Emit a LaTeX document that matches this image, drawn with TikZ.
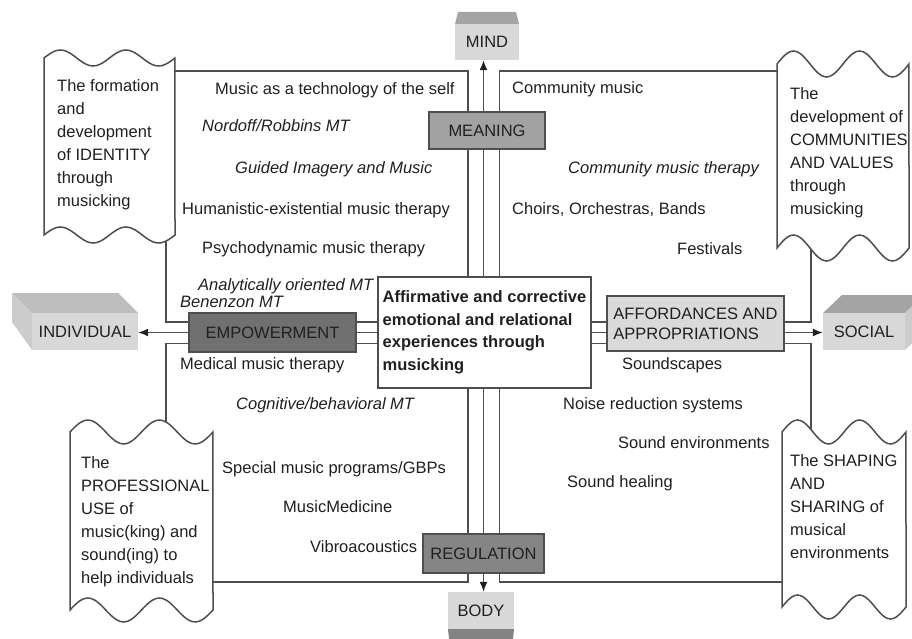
\documentclass[tikz,border=0pt]{standalone}
\usepackage{fontspec}
\setmainfont{Liberation Sans}
\usetikzlibrary{arrows.meta}

\definecolor{ink}{HTML}{202020}
\definecolor{wire}{HTML}{4E4E4E}
\definecolor{meanfill}{HTML}{A2A2A2}
\definecolor{empfill}{HTML}{707070}
\definecolor{regfill}{HTML}{858585}
\definecolor{affill}{HTML}{DADADA}
\definecolor{facelight}{HTML}{D8D8D8}
\definecolor{faceside}{HTML}{CCCCCC}
\definecolor{facetop}{HTML}{BDBDBD}
\definecolor{facedark}{HTML}{A4A4A4}

% banner with wavy top and bottom edges: x0, x1, top mid, bottom mid, amplitude
\newcommand\wavebanner[5]{%
  \draw[wireline,fill=white]
    plot[smooth,domain=0:1,samples=41] ({#1+(#2-#1)*\x},{#3-#5*sin(720*\x)})
    -- plot[smooth,domain=1:0,samples=41] ({#1+(#2-#1)*\x},{#4-#5*sin(720*\x)})
    -- cycle;}

\begin{document}
\begin{tikzpicture}[x=1pt,y=-1pt,
  font=\fontsize{16.5}{23}\selectfont,
  wireline/.style={draw=wire,line width=1.5pt},
  tip/.style={wireline,-{Latex[length=10pt,width=8pt,color=ink]}},
  hub/.style={draw=wire,line width=1.5pt,inner sep=0pt,text=ink,align=center},
  face/.style={inner sep=0pt,text=ink},
  txt/.style={anchor=base west,inner sep=0pt,text=ink},
  txti/.style={txt,font=\fontsize{16.5}{23}\selectfont\itshape},
  blurb/.style={anchor=north west,inner sep=0pt,text=ink,align=left,
    font=\fontsize{16.5}{23.1}\selectfont},
]
\fill[white] (0,0) rectangle (912,639);
\useasboundingbox (0,0) rectangle (912,639);

% rail positions
\coordinate (L) at (468,0);
\coordinate (C) at (483.5,0);
\coordinate (R) at (499.5,0);
\coordinate (T) at (0,322);
\coordinate (M) at (0,332.5);
\coordinate (B) at (0,343.5);

% corner banners
\wavebanner{44}{175}{58}{235}{8}
\wavebanner{777}{909}{64}{248}{13}
\wavebanner{70}{213}{432}{610}{12}
\wavebanner{782}{906}{432}{607}{12}

% attachment points on the banner edges
\coordinate (tlA) at (175,71);
\coordinate (tlB) at ({166},{235-8*sin(670.5)});
\coordinate (trA) at (777,71);
\coordinate (trB) at ({811},{248-13*sin(185.45)});
\coordinate (blA) at (213,582);
\coordinate (blB) at ({166},{432-12*sin(483.36)});
\coordinate (brA) at (782,582);
\coordinate (brB) at ({811},{432-12*sin(168.39)});

\node[blurb] (tlnote) at (57,79) {The formation\\and\\development\\of IDENTITY\\through\\musicking};
\node[blurb] (trnote) at (790,87) {The\\development of\\COMMUNITIES\\AND VALUES\\through\\musicking};
\node[blurb] (blnote) at (81,456) {The\\PROFESSIONAL\\USE of\\music(king) and\\sound(ing) to\\help individuals};
\node[blurb] (brnote) at (790,454) {The SHAPING\\AND\\SHARING of\\musical\\environments};

% solid blocks
\fill[facedark] (458,12) -- (516,12) -- (519,24) -- (455,24) -- cycle;
\node[face,fill=facelight,minimum width=64,minimum height=36] (mind) at (487,42) {MIND};

\node[face,fill=facelight,minimum width=66,minimum height=37] (body) at (481,610.5) {BODY};
\fill[facedark!80!black] (448,629) -- (514,629) -- (513,639) -- (449,639) -- cycle;

\fill[facetop] (12,293) -- (118,293) -- (138,313) -- (32,313) -- cycle;
\fill[faceside] (12,293) -- (32,313) -- (32,350) -- (12,322) -- cycle;
\node[face,fill=facelight,minimum width=106,minimum height=37] (indiv) at (85,331.5) {INDIVIDUAL};

\fill[facedark] (823,313) -- (842,295) -- (924,295) -- (905,313) -- cycle;
\fill[faceside] (905,313) -- (924,295) -- (924,332) -- (905,350) -- cycle;
\node[face,fill=facelight,minimum width=82,minimum height=37] (social) at (864,331.5) {SOCIAL};

% central hub and the four processes
\node[hub,fill=white,minimum width=213,minimum height=111,align=left,
  font=\fontsize{16.5}{22.5}\selectfont\bfseries] (core) at (484.5,332.5)
  {Affirmative and corrective\\emotional and relational\\experiences through\\musicking};
\node[hub,fill=meanfill,minimum width=116,minimum height=37] (meaning) at (487,130.5) {MEANING};
\node[hub,fill=empfill,minimum width=167,minimum height=39] (empow) at (272.5,332.5) {EMPOWERMENT};
\node[hub,fill=regfill,minimum width=121,minimum height=39] (regul) at (483.5,553.5) {REGULATION};
\node[hub,fill=affill,minimum width=177,minimum height=55,align=left,
  font=\fontsize{16.5}{20}\selectfont] (afford) at (695.5,323.5) {AFFORDANCES AND\\APPROPRIATIONS};

% triple rails
\foreach \k in {L,C,R} \draw[wireline] (core.north -| \k) -- (meaning.south -| \k);
\foreach \k in {L,C,R} \draw[wireline] (core.south -| \k) -- (regul.north -| \k);
\foreach \k in {T,M,B} \draw[wireline] (core.west |- \k) -- (empow.east |- \k);
\foreach \k in {T,M,B} \draw[wireline] (core.east |- \k) -- (afford.west |- \k);

% arrows to the four poles
\draw[tip] (meaning.north -| C) -- (mind.south -| C);
\draw[tip] (regul.south -| C) -- (body.north -| C);
\draw[tip] (empow.west |- M) -- (indiv.east |- M);
\draw[tip] (afford.east |- M) -- (social.west |- M);

% frame lines to the banners
\draw[wireline] (meaning.north -| L) |- (tlA);
\draw[wireline] (meaning.north -| R) |- (trA);
\draw[wireline] (regul.south -| L) |- (blA);
\draw[wireline] (regul.south -| R) |- (brA);
\draw[wireline] (empow.west |- T) -| (tlB);
\draw[wireline] (empow.west |- B) -| (blB);
\draw[wireline] (afford.east |- T) -| (trB);
\draw[wireline] (afford.east |- B) -| (brB);

% upper left
\node[txt]  (t1) at (215,95)  {Music as a technology of the self};
\node[txti] (t2) at (202,132) {Nordoff/Robbins MT};
\node[txti] (t3) at (235,174) {Guided Imagery and Music};
\node[txt]  (t4) at (182,214) {Humanistic-existential music therapy};
\node[txt]  (t5) at (202,253) {Psychodynamic music therapy};
\node[txti] (t6) at (198,290) {Analytically oriented MT};
\node[txti] (t7) at (180,307) {Benenzon MT};
% upper right
\node[txt]  (u1) at (512,94)  {Community music};
\node[txti] (u2) at (568,174) {Community music therapy};
\node[txt]  (u3) at (512,214) {Choirs, Orchestras, Bands};
\node[txt]  (u4) at (677,254) {Festivals};
% lower left
\node[txt]  (v1) at (180,369) {Medical music therapy};
\node[txti] (v2) at (236,409) {Cognitive/behavioral MT};
\node[txt]  (v3) at (222,473) {Special music programs/GBPs};
\node[txt]  (v4) at (283,512) {MusicMedicine};
\node[txt]  (v5) at (310,552) {Vibroacoustics};
% lower right
\node[txt]  (w1) at (622,369) {Soundscapes};
\node[txt]  (w2) at (563,409) {Noise reduction systems};
\node[txt]  (w3) at (618,448) {Sound environments};
\node[txt]  (w4) at (567,487) {Sound healing};
\end{tikzpicture}
\end{document}
